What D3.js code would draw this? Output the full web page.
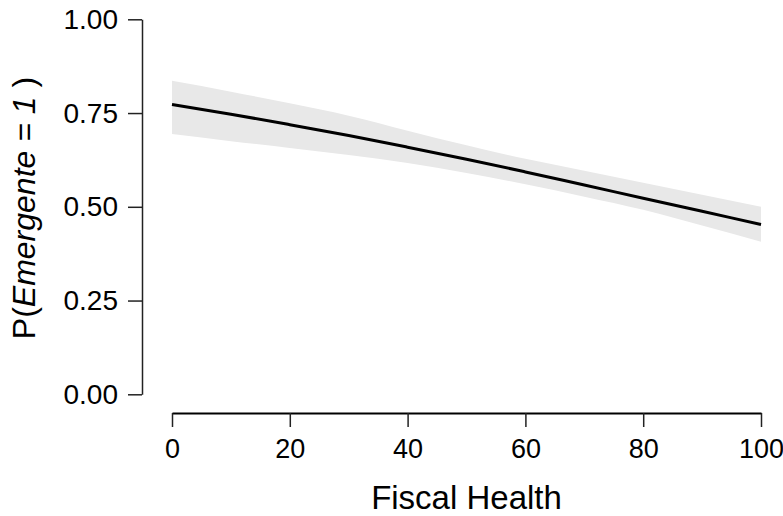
<!DOCTYPE html>
<html>
<head>
<meta charset="utf-8">
<script src="https://cdn.jsdelivr.net/npm/d3@7"></script>
<style>
  body { margin: 0; background: #fff; }
  text { font-family: "Liberation Sans", Arial, sans-serif; fill: #000; }
</style>
</head>
<body>
<div id="chart"></div>
<script>
// values
var fiscal = [0, 10, 20, 30, 40, 50, 60, 70, 80, 90, 100];
var fit    = [0.773, 0.747, 0.719, 0.690, 0.659, 0.627, 0.593, 0.558, 0.523, 0.488, 0.453];
var lower  = [0.694, 0.675, 0.657, 0.638, 0.617, 0.590, 0.560, 0.527, 0.492, 0.450, 0.407];
var upper  = [0.836, 0.807, 0.776, 0.743, 0.703, 0.664, 0.628, 0.596, 0.564, 0.532, 0.500];
var xTicks = [0, 20, 40, 60, 80, 100];
var yTicks = [0, 0.25, 0.5, 0.75, 1];

var w = 783,
    h = 516,
    svg = d3.select("#chart")
    .append("svg")
    .attr("width", w)
    .attr("height", h);

var x = d3.scaleLinear().domain([0, 100]).range([172, 761]);
var y = d3.scaleLinear().domain([0, 1]).range([394.3, 19.3]);

var rows = fiscal.map(function(d, i) {
    return { x: d, fit: fit[i], lo: lower[i], hi: upper[i] };
});

// confidence band
var band = d3.area()
    .x(function(d) { return x(d.x); })
    .y0(function(d) { return y(d.lo); })
    .y1(function(d) { return y(d.hi); })
    .curve(d3.curveMonotoneX);

svg.append("path")
    .datum(rows)
    .attr("d", band)
    .attr("fill", "#e8e8e8");

// fitted line
var line = d3.line()
    .x(function(d) { return x(d.x); })
    .y(function(d) { return y(d.fit); })
    .curve(d3.curveMonotoneX);

svg.append("path")
    .datum(rows)
    .attr("d", line)
    .attr("fill", "none")
    .attr("stroke", "#000")
    .attr("stroke-width", 3);

// y axis, detached to the left like base R
var yAxis = svg.append("g")
    .attr("transform", "translate(142,0)")
    .call(d3.axisLeft(y)
        .tickValues(yTicks)
        .tickFormat(d3.format(".2f"))
        .tickSize(14)
        .tickSizeOuter(0)
        .tickPadding(10));

yAxis.selectAll("path, line").attr("stroke", "#222").attr("stroke-width", 1.5);
yAxis.selectAll("text")
    .style("font-size", "28px")
    .style("font-family", "'Liberation Sans', Arial, sans-serif")
    .attr("fill", "#000");

// x axis
var xAxis = svg.append("g")
    .attr("transform", "translate(0,413)")
    .call(d3.axisBottom(x)
        .tickValues(xTicks)
        .tickSize(14)
        .tickSizeOuter(0)
        .tickPadding(12));

xAxis.select(".domain").attr("stroke", "#000").attr("stroke-width", 2);
xAxis.selectAll(".tick line").attr("stroke", "#222").attr("stroke-width", 1.5);
xAxis.selectAll("text")
    .style("font-size", "27px")
    .style("font-family", "'Liberation Sans', Arial, sans-serif")
    .attr("fill", "#000");

// axis titles
svg.append("text")
    .attr("x", 466.5)
    .attr("y", 509)
    .attr("text-anchor", "middle")
    .style("font-size", "33px")
    .text("Fiscal Health");

var ylab = svg.append("text")
    .attr("transform", "translate(35,208) rotate(-90)")
    .attr("text-anchor", "middle")
    .style("font-size", "32px");
ylab.append("tspan").text("P(");
ylab.append("tspan").style("font-style", "italic").text("Emergente = 1");
ylab.append("tspan").text(" )");
</script>
</body>
</html>
